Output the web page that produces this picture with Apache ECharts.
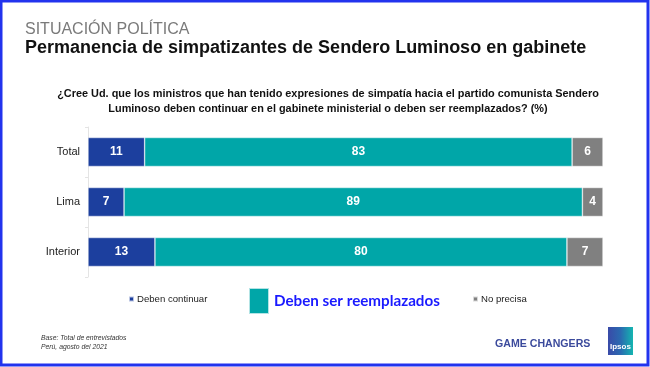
<!DOCTYPE html>
<html>
<head>
<meta charset="utf-8">
<script src="https://cdn.jsdelivr.net/npm/echarts@6/dist/echarts.min.js"></script>
<style>
html,body{margin:0;padding:0;background:#fff;}
#c{width:650px;height:367px;}
</style>
</head>
<body>
<div id="c"></div>
<script>
const categories = ['Total', 'Lima', 'Interior'];
const debenContinuar = [11, 7, 13];
const debenSerReemplazados = [83, 89, 80];
const noPrecisa = [6, 4, 7];
const seriesNames = ['Deben continuar', 'Deben ser reemplazados', 'No precisa'];
const colors = ['#1c3f9e', '#00a6a8', '#808080'];

const chart = echarts.init(document.getElementById('c'));
const lbl = {show: true, position: 'inside', color: '#fff', fontWeight: 'bold', fontSize: 12, fontFamily: 'Liberation Sans'};
function mk(name, data, color) {
  return {name, type: 'bar', stack: 's', data, barWidth: 29,
    itemStyle: {color, borderColor: 'rgba(255,255,255,0.7)', borderWidth: 0.6},
    label: lbl, emphasis: {disabled: true}};
}
chart.setOption({
  animation: false,
  grid: {left: 88, right: 47, top: 127, bottom: 90, containLabel: false},
  xAxis: {type: 'value', min: 0, max: 100, show: false},
  yAxis: {type: 'category', data: categories, inverse: true,
    axisLine: {show: true, lineStyle: {color: '#e4e4e4'}},
    axisTick: {show: true, length: 3, lineStyle: {color: '#e4e4e4'}},
    axisLabel: {color: '#222', fontSize: 11, fontFamily: 'Liberation Sans', margin: 8}},
  legend: [
    {data: [seriesNames[0]], left: 123, top: 289, icon: 'rect', itemWidth: 5, itemHeight: 5, itemGap: 3,
      textStyle: {fontSize: 9.6, color: '#222', fontFamily: 'Liberation Sans', padding: [0,0,0,-2]}},
    {data: [seriesNames[1]], left: 243, top: 282, icon: 'rect', itemWidth: 20, itemHeight: 26, itemGap: 3,
      textStyle: {fontSize: 15.2, fontWeight: 'bold', color: '#1a1aff', fontFamily: 'Lato'}},
    {data: [seriesNames[2]], left: 467, top: 289, icon: 'rect', itemWidth: 5, itemHeight: 5, itemGap: 3,
      textStyle: {fontSize: 9.6, color: '#222', fontFamily: 'Liberation Sans', padding: [0,0,0,-2]}}
  ],
  series: [
    mk(seriesNames[0], debenContinuar, colors[0]),
    mk(seriesNames[1], debenSerReemplazados, colors[1]),
    mk(seriesNames[2], noPrecisa, colors[2])
  ],
  graphic: [
    {type: 'rect', shape: {x: 1, y: 1, width: 647, height: 364}, style: {fill: 'none', stroke: '#2233ee', lineWidth: 3}},
    {type: 'text', left: 25, top: 22, style: {text: 'SITUACIÓN POLÍTICA', fontSize: 16, fill: '#7a7a7a', fontFamily: 'Liberation Sans'}},
    {type: 'text', left: 25, top: 39, style: {text: 'Permanencia de simpatizantes de Sendero Luminoso en gabinete', fontSize: 18, fontWeight: 'bold', fill: '#111', fontFamily: 'Liberation Sans'}},
    {type: 'text', x: 328, y: 86, style: {text: '¿Cree Ud. que los ministros que han tenido expresiones de simpatía hacia el partido comunista Sendero\nLuminoso deben continuar en el gabinete ministerial o deben ser reemplazados? (%)', fontSize: 10.9, fontWeight: 'bold', fill: '#111', align: 'center', lineHeight: 15, fontFamily: 'Liberation Sans'}},
    {type: 'text', left: 41, top: 334, style: {text: 'Base: Total de entrevistados\nPerú, agosto del 2021', fontSize: 6.8, fontStyle: 'italic', fill: '#333', lineHeight: 9, fontFamily: 'Liberation Sans'}},
    {type: 'text', left: 495, top: 339, style: {text: 'GAME CHANGERS', fontSize: 10.6, fontWeight: 'bold', fill: '#3b4a9c', fontFamily: 'Liberation Sans'}},
    {type: 'rect', shape: {x: 608, y: 327, width: 25, height: 28}, style: {fill: {type: 'linear', x: 0, y: 0, x2: 1, y2: 0, colorStops: [{offset: 0, color: '#3a4aa8'}, {offset: 0.5, color: '#2a6ab0'}, {offset: 1, color: '#14b5b0'}]}}},
    {type: 'text', left: 610, top: 343, style: {text: 'Ipsos', fontSize: 8, fontWeight: 'bold', fill: '#fff', fontFamily: 'Liberation Sans'}}
  ]
});
</script>
</body>
</html>
